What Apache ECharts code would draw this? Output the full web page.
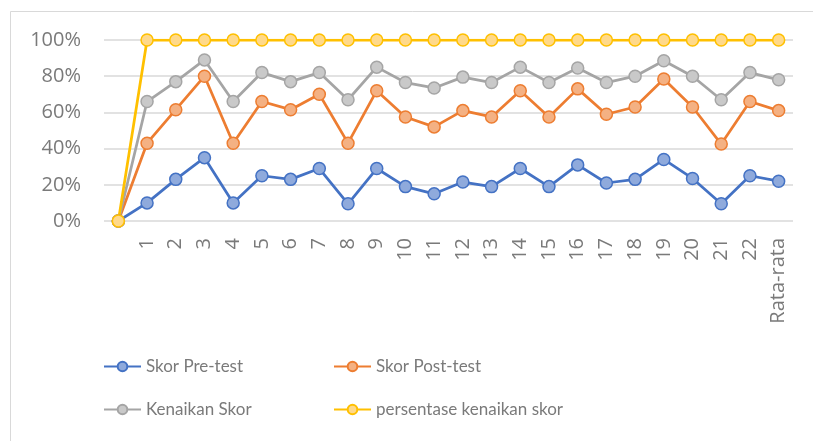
<!DOCTYPE html>
<html>
<head>
<meta charset="utf-8">
<script src="https://cdn.jsdelivr.net/npm/echarts@6/dist/echarts.min.js"></script>
<style>
  html, body { margin: 0; padding: 0; background: #fff; }
  #chart { width: 813px; height: 441px; }
</style>
</head>
<body>
<div id="chart"></div>
<script>
const categories = ['', '1', '2', '3', '4', '5', '6', '7', '8', '9', '10', '11', '12',
  '13', '14', '15', '16', '17', '18', '19', '20', '21', '22', 'Rata-rata']

const preTest = [0, 10, 23, 35, 10, 25, 23, 29, 9.5, 29, 19, 15, 21.5,
  19, 29, 19, 31, 21, 23, 34, 23.5, 9.5, 25, 22]
const postTest = [0, 43, 61.5, 80, 43, 66, 61.5, 70, 43, 72, 57.5, 52, 61,
  57.5, 72, 57.5, 73, 59, 63, 78.5, 63, 42.5, 66, 61]
const kenaikan = [0, 66, 77, 89, 66, 82, 77, 82, 67, 85, 76.5, 73.5, 79.5,
  76.5, 85, 76.5, 84.5, 76.5, 80, 88.5, 80, 67, 82, 78]
const persentase = [0, 100, 100, 100, 100, 100, 100, 100, 100, 100, 100, 100, 100,
  100, 100, 100, 100, 100, 100, 100, 100, 100, 100, 100]

const yTicks = [0, 20, 40, 60, 80, 100]

const textColor = '#7a7a7a'

const chart = echarts.init(document.getElementById('chart'))

const mkSeries = (name, data, line, fill) => ({
  name,
  type: 'line',
  data,
  symbol: 'circle',
  symbolSize: 12,
  lineStyle: { color: line, width: 2.75 },
  itemStyle: { color: fill, borderColor: line, borderWidth: 1.5 },
  emphasis: { disabled: true },
  animation: false
})

const mkLegend = (name, left, top) => ({
  data: [name],
  left,
  top,
  padding: 0,
  itemWidth: 37,
  itemHeight: 12,
  textStyle: { color: textColor, fontSize: 17, fontFamily: 'Lato' },
  selectedMode: false
})

const option = {
  backgroundColor: '#fff',
  graphic: [{
    type: 'rect',
    shape: { x: 10.5, y: 11.5, width: 900, height: 500 },
    style: { fill: 'none', stroke: '#d9d9d9', lineWidth: 1 },
    silent: true
  }],
  grid: { left: 104, right: 20, top: 40, bottom: 220 },
  legend: [
    mkLegend('Skor Pre-test', 103, 358),
    mkLegend('Skor Post-test', 333, 358),
    mkLegend('Kenaikan Skor', 103, 401),
    mkLegend('persentase kenaikan skor', 333, 401)
  ],
  xAxis: {
    type: 'category',
    data: categories,
    boundaryGap: true,
    axisLine: { show: false },
    axisTick: { show: false },
    axisLabel: {
      rotate: 90,
      interval: 0,
      margin: 17,
      color: textColor,
      fontSize: 20,
      fontFamily: '"Open Sans"'
    }
  },
  yAxis: {
    type: 'value',
    min: yTicks[0],
    max: yTicks[yTicks.length - 1],
    interval: 20,
    axisLine: { show: false },
    axisTick: { show: false },
    axisLabel: {
      formatter: '{value}%',
      margin: 23,
      color: textColor,
      fontSize: 20,
      fontFamily: '"Open Sans"'
    },
    splitLine: { lineStyle: { color: '#d9d9d9', width: 1.5 } }
  },
  series: [
    mkSeries('Skor Pre-test', preTest, '#4472c4', '#8faadc'),
    mkSeries('Skor Post-test', postTest, '#ed7d31', '#f4b183'),
    mkSeries('Kenaikan Skor', kenaikan, '#a5a5a5', '#c9c9c9'),
    mkSeries('persentase kenaikan skor', persentase, '#ffc000', '#ffd98a')
  ]
}

chart.setOption(option)
</script>
</body>
</html>
